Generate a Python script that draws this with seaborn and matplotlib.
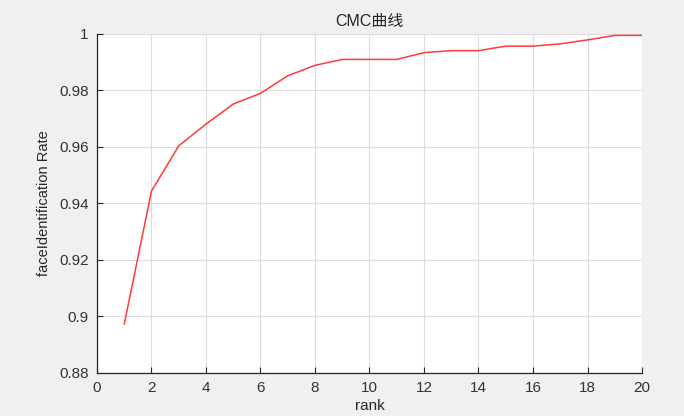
import matplotlib
matplotlib.use("Agg")
import matplotlib.pyplot as plt
import seaborn as sns
import pandas as pd

# CMC curve values
rank = list(range(1, 21))
rate = [0.8973, 0.9444, 0.9604, 0.9681, 0.9752, 0.9790, 0.9852, 0.9889, 0.9910, 0.9910,
        0.9910, 0.9934, 0.9941, 0.9941, 0.9957, 0.9957, 0.9965, 0.9979, 0.9995, 0.9995]
x_ticks = list(range(0, 21, 2))
y_ticks = [0.88, 0.9, 0.92, 0.94, 0.96, 0.98, 1]
y_tick_labels = ["0.88", "0.9", "0.92", "0.94", "0.96", "0.98", "1"]

sns.set_theme(style="whitegrid")
plt.rcParams["font.family"] = ["Liberation Sans", "Noto Sans CJK SC", "DejaVu Sans"]

df = pd.DataFrame({"rank": rank, "rate": rate})

fig = plt.figure(figsize=(6.84, 4.16), dpi=100, facecolor="#f0f0f0")
ax = fig.add_axes([0.1418, 0.1034, 0.7968, 0.8149])
ax.set_facecolor("white")

sns.lineplot(data=df, x="rank", y="rate", ax=ax, color="#ff3a3a", linewidth=1.1)

ax.set_xlim(0, 20)
ax.set_ylim(0.88, 1)
ax.set_xticks(x_ticks)
ax.set_yticks(y_ticks)
ax.set_yticklabels(y_tick_labels)
ax.grid(True, color="#dcdcdc", linewidth=0.8)

for side in ["top", "right"]:
    ax.spines[side].set_visible(False)
for side in ["left", "bottom"]:
    ax.spines[side].set_color("#262626")
    ax.spines[side].set_linewidth(0.9)

ax.tick_params(axis="both", direction="in", length=4, width=0.8, colors="#262626",
               labelcolor="#333333", labelsize=11, left=True, bottom=True, pad=6)

ax.set_xlabel("rank", fontsize=11, color="#262626", labelpad=3)
ax.set_ylabel("faceIdentification Rate", fontsize=10.5, color="#262626", labelpad=6)
ax.set_title("CMC曲线", fontsize=11.5, color="#262626", pad=6)

fig.savefig("out.png", dpi=100, facecolor=fig.get_facecolor())
